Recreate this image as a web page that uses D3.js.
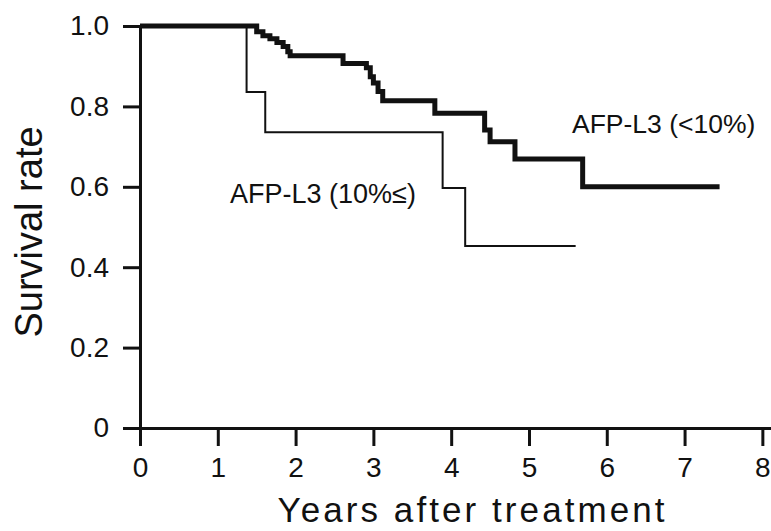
<!DOCTYPE html>
<html>
<head>
<meta charset="utf-8">
<script src="https://cdn.jsdelivr.net/npm/d3@7"></script>
<style>
    html, body { margin: 0; padding: 0; background: #fff; }
    svg text { font-family: "Liberation Sans", Arial, sans-serif; fill: #111; }
</style>
</head>
<body>
<div id="chart"></div>
<script>
// survival curves (years, survival rate)
var low_times = [0, 1.50, 1.58, 1.67, 1.76, 1.84, 1.90, 1.93, 2.61, 2.91, 2.96, 3.00, 3.06, 3.12, 3.79, 4.43, 4.50, 4.82, 5.69, 7.45];
var low_rates = [1.0, 0.986, 0.976, 0.968, 0.959, 0.949, 0.936, 0.926, 0.907, 0.896, 0.874, 0.858, 0.837, 0.814, 0.783, 0.741, 0.712, 0.669, 0.600, 0.600];

var high_times = [0, 1.37, 1.61, 3.89, 4.18, 5.60];
var high_rates = [1.0, 0.836, 0.736, 0.597, 0.453, 0.453];

var x_ticks = [0, 1, 2, 3, 4, 5, 6, 7, 8];
var y_ticks = [0, 0.2, 0.4, 0.6, 0.8, 1.0];
var y_tick_labels = ['0', '0.2', '0.4', '0.6', '0.8', '1.0'];

var series = [
    {label: 'AFP-L3 (<10%)', times: low_times, rates: low_rates, width: 5},
    {label: 'AFP-L3 (10%\u2264)', times: high_times, rates: high_rates, width: 2}
];

var svg_size = {'width': 771, 'height': 531};

var svg = d3.select('#chart')
    .append('svg')
    .attr('width', svg_size.width)
    .attr('height', svg_size.height);

var x_scale = d3.scaleLinear()
    .domain([0, 8.12])
    .range([140, 771.7]);

var y_scale = d3.scaleLinear()
    .domain([0, 1])
    .range([428, 26]);

// x axis, ticks pointing down
var x_axis = d3.axisBottom(x_scale)
    .tickValues(x_ticks)
    .tickFormat(d3.format('d'))
    .tickSizeInner(18)
    .tickSizeOuter(0)
    .tickPadding(11);

var x_group = svg.append('g')
    .attr('transform', 'translate(0,' + y_scale(0) + ')')
    .call(x_axis);

// y axis
var y_axis = d3.axisLeft(y_scale)
    .tickValues(y_ticks)
    .tickFormat(function(d, i){ return y_tick_labels[i]; })
    .tickSizeInner(17)
    .tickSizeOuter(0)
    .tickPadding(14);

var y_group = svg.append('g')
    .attr('transform', 'translate(' + x_scale(0) + ',0)')
    .call(y_axis);

[x_group, y_group].forEach(function(g){
    g.select('.domain').attr('stroke', '#111').attr('stroke-width', 3);
    g.selectAll('.tick line').attr('stroke', '#111').attr('stroke-width', 3);
    g.selectAll('.tick text')
        .style('font-family', '"Liberation Sans", Arial, sans-serif')
        .style('font-size', '28px')
        .attr('fill', '#111');
});

// curves
var line = d3.line()
    .x(function(d){ return x_scale(d[0]); })
    .y(function(d){ return y_scale(d[1]); })
    .curve(d3.curveStepAfter);

svg.selectAll('.curve')
    .data(series)
    .enter()
    .append('path')
    .classed('curve', true)
    .attr('d', function(s){
        return line(s.times.map(function(t, i){ return [t, s.rates[i]]; }));
    })
    .attr('fill', 'none')
    .attr('stroke', '#111')
    .attr('stroke-width', function(s){ return s.width; });

// curve labels
svg.append('text')
    .attr('x', 572)
    .attr('y', 133)
    .style('font-size', '26.5px')
    .text(series[0].label);

svg.append('text')
    .attr('x', 230)
    .attr('y', 203)
    .style('font-size', '27px')
    .text(series[1].label);

// axis titles
svg.append('text')
    .attr('x', 471)
    .attr('y', 522)
    .attr('text-anchor', 'middle')
    .attr('textLength', 387)
    .attr('lengthAdjust', 'spacing')
    .style('font-size', '35px')
    .text('Years after treatment');

svg.append('text')
    .attr('transform', 'translate(42,232) rotate(-90)')
    .attr('text-anchor', 'middle')
    .style('font-size', '38px')
    .text('Survival rate');
</script>
</body>
</html>
